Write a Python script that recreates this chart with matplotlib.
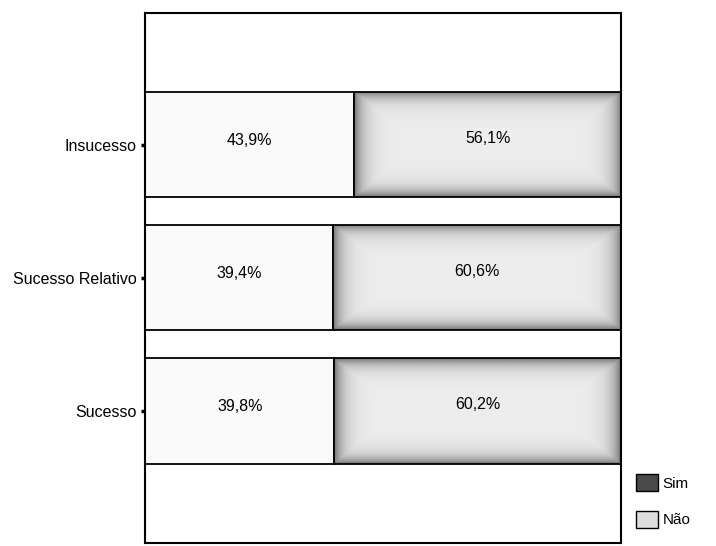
import numpy as np
import matplotlib.pyplot as plt
from matplotlib.patches import Patch

plt.rcParams['font.family'] = ['Liberation Sans', 'DejaVu Sans']

categorias = ["Sucesso", "Sucesso Relativo", "Insucesso"]
nao = [39.8, 39.4, 43.9]
sim = [60.2, 60.6, 56.1]


def sombra(ax, bar):
    # degradê cinza escuro nas bordas, claro no centro
    x0, y0 = bar.get_x(), bar.get_y()
    w, h = bar.get_width(), bar.get_height()
    nx, ny = 200, 60
    u = np.linspace(0, 1, nx)
    v = np.linspace(0, 1, ny)
    dx = np.minimum(u, 1 - u) * w / 5.0
    dy = np.minimum(v, 1 - v) * h / 0.14
    d = np.minimum.outer(dy, dx)
    img = 0.93 - 0.45 * np.exp(-d * 2.5)
    im = ax.imshow(img, cmap="gray", vmin=0, vmax=1, aspect="auto",
                   extent=(x0, x0 + w, y0, y0 + h), interpolation="bilinear",
                   zorder=bar.get_zorder())
    im.set_clip_path(bar)


fig = plt.figure(figsize=(7.16, 5.46), dpi=100)
ax = fig.add_axes([0.2025, 0.006, 0.665, 0.97])

y = np.arange(len(categorias))
b1 = ax.barh(y, nao, height=0.79, color="#fafafa", edgecolor="black",
             linewidth=1.3, zorder=2)
b2 = ax.barh(y, sim, left=nao, height=0.79, color="#d9d9d9", edgecolor="none",
             linewidth=1.3, zorder=2)
for bar in b2:
    sombra(ax, bar)
ax.barh(y, sim, left=nao, height=0.79, color="none", edgecolor="black",
        linewidth=1.3, zorder=3)

for i in range(len(categorias)):
    ax.text(nao[i] / 2, y[i] + 0.03, f"{nao[i]:.1f}%".replace(".", ","),
            ha="center", va="center", fontsize=11.5, zorder=4)
    ax.text(nao[i] + sim[i] / 2, y[i] + 0.05, f"{sim[i]:.1f}%".replace(".", ","),
            ha="center", va="center", fontsize=11.5, zorder=4)

ax.set_xlim(0, 100)
ax.set_ylim(-0.99, 2.99)
ax.set_yticks(y)
ax.set_yticklabels(categorias, fontsize=11.5)
ax.set_xticks([])
ax.tick_params(axis="y", direction="out", length=3, width=2.5, pad=3)
for s in ax.spines.values():
    s.set_linewidth(1.5)

leg = fig.legend(handles=[Patch(facecolor="#4a4a4a", edgecolor="black", label="Sim"),
                          Patch(facecolor="#dedede", edgecolor="black", label="Não")],
                 loc="upper left", bbox_to_anchor=(0.878, 0.145), frameon=False,
                 fontsize=11, handlelength=1.4, handleheight=1.3,
                 labelspacing=1.3, handletextpad=0.3, borderpad=0)

fig.savefig("out.png", dpi=100)
